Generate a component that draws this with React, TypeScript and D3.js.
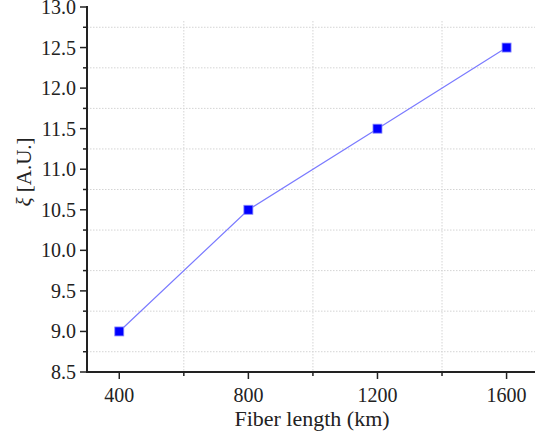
import React from "react";
import * as d3 from "d3";

const fiberLength = [400, 800, 1200, 1600];
const xiValues = [9.0, 10.5, 11.5, 12.5];
const xTicks = [400, 800, 1200, 1600];
const xMinor = [600, 1000, 1400];
const yTicks = [8.5, 9.0, 9.5, 10.0, 10.5, 11.0, 11.5, 12.0, 12.5, 13.0];
const yMinor = [8.75, 9.25, 9.75, 10.25, 10.75, 11.25, 11.75, 12.25, 12.75];

const W = 535;
const H = 435;
const left = 87;
const bottom = 372;
const top = 7;
const FONT = "Liberation Serif, Times New Roman, serif";

export default function App() {
  const x = d3.scaleLinear().domain([300, 1700]).range([left, left + 129.1 * 3.5]);
  const y = d3.scaleLinear().domain([8.5, 13.0]).range([bottom, top]);
  const line = d3
    .line<number>()
    .x((_, i) => x(fiberLength[i]))
    .y((d) => y(d));
  const ts = { fontFamily: FONT };
  return (
    <svg
      width={W}
      height={H}
      style={{ position: "absolute", left: 0, top: 0, background: "#fff" }}
    >
      {/* grid */}
      {yMinor.map((v) => (
        <line
          key={"gy" + v}
          x1={left}
          x2={W}
          y1={y(v)}
          y2={y(v)}
          stroke="#d4d4d4"
          strokeWidth={1}
          strokeDasharray="1.5,1.5"
        />
      ))}
      {xMinor.map((v) => (
        <line
          key={"gx" + v}
          x1={x(v)}
          x2={x(v)}
          y1={top + 14}
          y2={bottom}
          stroke="#d4d4d4"
          strokeWidth={1}
          strokeDasharray="1.5,1.5"
        />
      ))}
      {/* axes */}
      <line x1={left} x2={left} y1={top - 1} y2={bottom + 1} stroke="#222" strokeWidth={2} />
      <line x1={left - 1} x2={W} y1={bottom} y2={bottom} stroke="#222" strokeWidth={2} />
      {yTicks.map((v) => (
        <g key={"yt" + v}>
          <line x1={left - 7} x2={left} y1={y(v)} y2={y(v)} stroke="#222" strokeWidth={1.5} />
          <text x={left - 11} y={y(v) + 7} textAnchor="end" fontSize={20} fill="#222" style={ts}>
            {d3.format(".1f")(v)}
          </text>
        </g>
      ))}
      {yMinor.map((v) => (
        <line key={"ym" + v} x1={left - 4} x2={left} y1={y(v)} y2={y(v)} stroke="#222" strokeWidth={1.5} />
      ))}
      {xTicks.map((v) => (
        <g key={"xt" + v}>
          <line x1={x(v)} x2={x(v)} y1={bottom} y2={bottom + 7} stroke="#222" strokeWidth={1.5} />
          <text x={x(v)} y={bottom + 30} textAnchor="middle" fontSize={20} fill="#222" style={ts}>
            {v}
          </text>
        </g>
      ))}
      {xMinor.map((v) => (
        <line key={"xm" + v} x1={x(v)} x2={x(v)} y1={bottom} y2={bottom + 4} stroke="#222" strokeWidth={1.5} />
      ))}
      <text x={312} y={bottom + 54} textAnchor="middle" fontSize={22} fill="#222" style={ts}>
        Fiber length (km)
      </text>
      <text
        transform={`translate(31,172) rotate(-90)`}
        textAnchor="middle"
        fontSize={21}
        fill="#222"
        style={ts}
      >
        <tspan fontStyle="italic">ξ</tspan> [A.U.]
      </text>
      {/* data */}
      <path d={line(xiValues) || ""} fill="none" stroke="#7a7aff" strokeWidth={1.2} />
      {xiValues.map((v, i) => (
        <rect
          key={"m" + i}
          x={x(fiberLength[i]) - 4.5}
          y={y(v) - 4.5}
          width={9}
          height={9}
          fill="#0000ff"
          stroke="#8a8aff"
          strokeWidth={0.8}
        />
      ))}
    </svg>
  );
}
